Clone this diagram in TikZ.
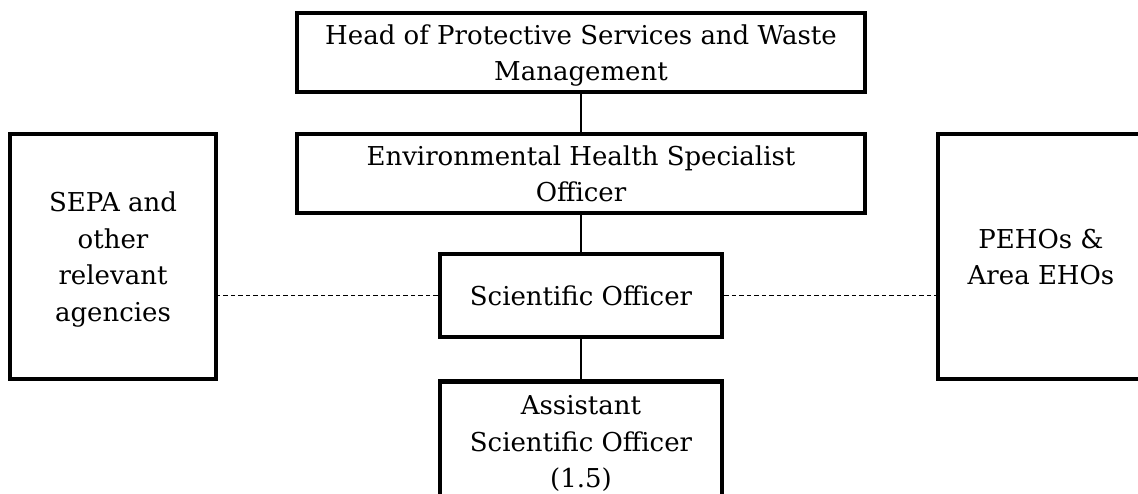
\documentclass[tikz,border=0pt]{standalone}
\usepackage{fontspec}
\setmainfont{DejaVu Serif}
\newcommand\ostrut{\rule[-8pt]{0pt}{36pt}}
\begin{document}
\begin{tikzpicture}[x=1pt,y=-1pt,
  orgbox/.style={draw=black, line width=4.3pt, fill=none, inner sep=0pt, align=center,
    font=\fontsize{26}{36.5}\selectfont},
  solidlink/.style={draw=black, line width=1.8pt},
  dashlink/.style={draw=black, line width=1.6pt, dash pattern=on 4.5pt off 3pt}]
\useasboundingbox (0,0) rectangle (1138,493);
\clip (0,0) rectangle (1138,493);
\node[orgbox, minimum width=567.6pt, minimum height=78.6pt] (head) at (581,52.5)
  {\ostrut Head of Protective Services and Waste\\Management\ostrut};
\node[orgbox, minimum width=567.6pt, minimum height=78.6pt] (ehs) at (581,173.5)
  {\ostrut Environmental Health Specialist\\Officer\ostrut};
\node[orgbox, minimum width=282.6pt, minimum height=82.6pt] (so) at (581,295.5)
  {\ostrut Scientific Officer\ostrut};
\node[orgbox, minimum width=205.6pt, minimum height=244.6pt] (sepa) at (113,256.5)
  {\ostrut SEPA and\\other\\relevant\\agencies\ostrut};
\node[orgbox, minimum width=205.6pt, minimum height=244.6pt] (peho) at (1041,256.5)
  {\ostrut PEHOs \&\\Area EHOs\ostrut};
\node[orgbox, minimum width=282.6pt, minimum height=120pt, anchor=north] (aso) at (581,379.2)
  {\ostrut Assistant\\Scientific Officer\\(1.5)\ostrut};
\draw[solidlink] (head.south) -- (ehs.north);
\draw[solidlink] (ehs.south) -- (so.north);
\draw[solidlink] (so.south) -- (aso.north);
\draw[dashlink] (so.west) -- (so.west -| sepa.east);
\draw[dashlink] (so.east) -- (so.east -| peho.west);
\end{tikzpicture}
\end{document}
